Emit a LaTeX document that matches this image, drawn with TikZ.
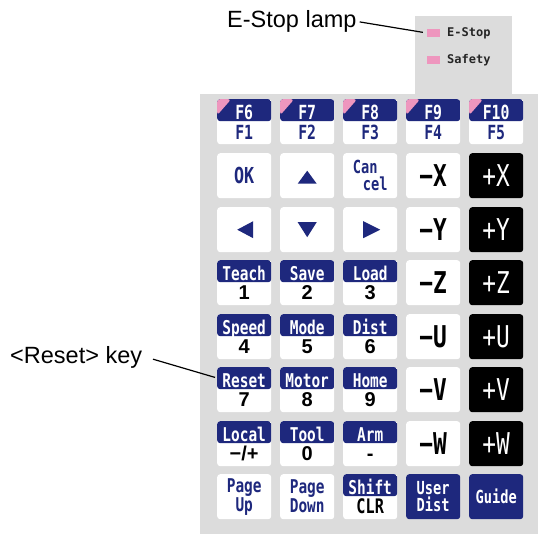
\documentclass[tikz,border=0pt]{standalone}
\usepackage{fontspec}
\setmainfont{Liberation Sans}
\newfontfamily\kf[FakeStretch=0.76]{DejaVu Sans Mono}
\newfontfamily\lampf{DejaVu Sans Mono}
\newfontfamily\digf{Liberation Sans}
\usetikzlibrary{calc}
\definecolor{navy}{RGB}{30,40,125}
\definecolor{pnl}{RGB}{220,220,220}
\definecolor{pinkc}{RGB}{238,150,190}
\tikzset{
 key/.style={rounded corners=3pt, minimum width=54pt, minimum height=45pt, inner sep=0pt,
   anchor=north west, fill=white, text=navy, align=center,
   font=\kf\bfseries\fontsize{19}{19}\selectfont},
 intext/.style={fill=none, draw=none, minimum width=0pt, minimum height=0pt, inner sep=0pt, anchor=base},
 hdr/.style={intext, text=white, font=\kf\bfseries\fontsize{19}{19}\selectfont},
 low/.style={intext, font=\digf\bfseries\fontsize{20}{20}\selectfont},
 split/.style n args={3}{key, path picture={
   \fill[navy] (path picture bounding box.north west) rectangle ([yshift=-22pt]path picture bounding box.north east);
   \node[hdr] at ([yshift=-20pt]path picture bounding box.north) {#1};
   \node[low, text=#3] at ([yshift=-39.5pt]path picture bounding box.north) {#2};}},
 fsplit/.style n args={2}{key, path picture={
   \fill[navy] (path picture bounding box.north west) rectangle ([yshift=-22pt]path picture bounding box.north east);
   \fill[pinkc] (path picture bounding box.north west) -- ([xshift=14pt]path picture bounding box.north west) -- ([yshift=-16pt]path picture bounding box.north west) -- cycle;
   \node[hdr, font=\kf\bfseries\fontsize{19.5}{19.5}\selectfont] at ([yshift=-20pt]path picture bounding box.north) {#1};
   \node[intext, text=navy, font=\kf\bfseries\fontsize{19.5}{19.5}\selectfont] at ([yshift=-40pt]path picture bounding box.north) {#2};}},
 axneg/.style={key, text=black, font=\kf\bfseries\fontsize{30}{30}\selectfont},
 axpos/.style={key, fill=black, text=white, font=\kf\fontsize{30}{30}\selectfont},
 bluekey/.style={key, fill=navy, text=white, font=\kf\bfseries\fontsize{18}{17}\selectfont},
 lamp/.style={fill=pinkc, minimum width=13pt, minimum height=8pt, inner sep=0pt},
 lamptext/.style={anchor=base west, inner sep=0pt, text=black!85, font=\lampf\bfseries\fontsize{12}{12}\selectfont},
 callout/.style={font=\fontsize{23.5}{23.5}\selectfont, inner sep=3pt},
 leader/.style={draw=black, line width=1.2pt},
 arrowfill/.style={fill=navy},
}
\begin{document}
\begin{tikzpicture}[x=1pt,y=-1pt]
\useasboundingbox (0,0) rectangle (538,534);
% panels
\fill[pnl] (200,94) rectangle (538,534);
\fill[pnl] (415,16) rectangle (512,95);
% lamps
\node[lamp] (elamp) at (433.5,33) {};
\node[lamp] (slamp) at (433.5,60) {};
\node[lamptext] (etext) at (447,37) {E-Stop};
\node[lamptext] (stext) at (447,64) {Safety};
% row 1
\node[fsplit={F6}{F1}] (f1) at (217,99) {};
\node[fsplit={F7}{F2}] (f2) at (280,99) {};
\node[fsplit={F8}{F3}] (f3) at (343,99) {};
\node[fsplit={F9}{F4}] (f4) at (406,99) {};
\node[fsplit={F10}{F5}] (f5) at (469,99) {};
% row 2
\node[key, font=\kf\bfseries\fontsize{22}{22}\selectfont] (ok) at (217,153) {OK};
\node[key] (up) at (280,153) {};
\node[key, align=left, font=\kf\bfseries\fontsize{18}{17}\selectfont] (cancel) at (343,153) {Can\\\hspace*{10pt}cel};
\node[axneg] (mx) at (406,153) {−X};
\node[axpos] (px) at (469,153) {+X};
% row 3
\node[key] (left) at (217,207) {};
\node[key] (down) at (280,207) {};
\node[key] (right) at (343,207) {};
\node[axneg] (my) at (406,207) {−Y};
\node[axpos] (py) at (469,207) {+Y};
% row 4
\node[split={Teach}{1}{black}] (k1) at (217,260) {};
\node[split={Save}{2}{black}] (k2) at (280,260) {};
\node[split={Load}{3}{black}] (k3) at (343,260) {};
\node[axneg] (mz) at (406,260) {−Z};
\node[axpos] (pz) at (469,260) {+Z};
% row 5
\node[split={Speed}{4}{black}] (k4) at (217,314) {};
\node[split={Mode}{5}{black}] (k5) at (280,314) {};
\node[split={Dist}{6}{black}] (k6) at (343,314) {};
\node[axneg] (mu) at (406,314) {−U};
\node[axpos] (pu) at (469,314) {+U};
% row 6
\node[split={Reset}{7}{black}] (k7) at (217,367) {};
\node[split={Motor}{8}{black}] (k8) at (280,367) {};
\node[split={Home}{9}{black}] (k9) at (343,367) {};
\node[axneg] (mv) at (406,367) {−V};
\node[axpos] (pv) at (469,367) {+V};
% row 7
\node[split={Local}{−/+}{black}] (kl) at (217,421) {};
\node[split={Tool}{0}{black}] (k0) at (280,421) {};
\node[split={Arm}{-}{black}] (ka) at (343,421) {};
\node[axneg] (mw) at (406,421) {−W};
\node[axpos] (pw) at (469,421) {+W};
% row 8
\node[key] (pgup) at (217,474) {Page\\Up};
\node[key] (pgdn) at (280,474) {Page\\Down};
\node[split={Shift}{\kf CLR}{black}] (shift) at (343,474) {};
\node[bluekey] (udist) at (406,474) {User\\Dist};
\node[bluekey] (guide) at (469,474) {Guide};
% arrow glyphs
\fill[arrowfill] ($(up.center)+(-9.5,8)$) -- ($(up.center)+(9.5,8)$) -- ($(up.center)+(0,-5)$) -- cycle;
\fill[arrowfill] ($(down.center)+(-9.5,-7.5)$) -- ($(down.center)+(9.5,-7.5)$) -- ($(down.center)+(0,7.5)$) -- cycle;
\fill[arrowfill] ($(left.center)+(9,-8.5)$) -- ($(left.center)+(9,8.5)$) -- ($(left.center)+(-7,0)$) -- cycle;
\fill[arrowfill] ($(right.center)+(-7,-8.5)$) -- ($(right.center)+(-7,8.5)$) -- ($(right.center)+(10,0)$) -- cycle;
% callouts
\node[callout, anchor=base west] (estoplbl) at (224,28) {E-Stop lamp};
\draw[leader, shorten >=4pt] (estoplbl.east) -- (elamp.west);
\node[callout, anchor=base west] (resetlbl) at (7,363) {<Reset> key};
\coordinate (resetpt) at ([yshift=-11pt]k7.north west);
\draw[leader, shorten >=2pt, shorten <=8pt] (resetlbl.east) -- (resetpt);
\end{tikzpicture}
\end{document}
